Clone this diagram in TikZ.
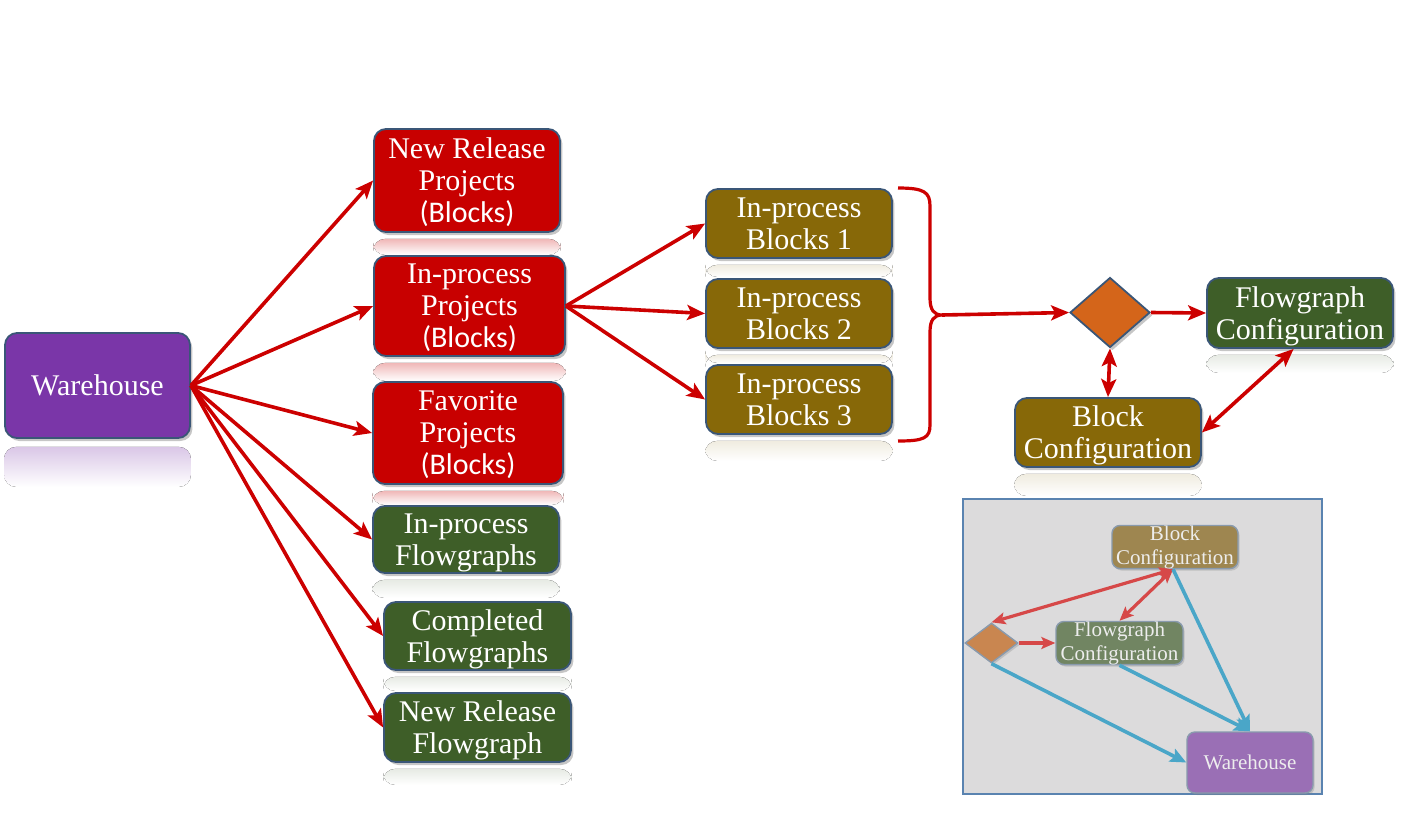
\documentclass[tikz,border=0pt]{standalone}
\usepackage{fontspec}
\setmainfont{Liberation Serif}
\newfontfamily\calfont{Carlito}
\usetikzlibrary{shapes.geometric,arrows.meta,shadows,calc}
\definecolor{purp}{HTML}{7A36A8}
\definecolor{redb}{HTML}{C80000}
\definecolor{grn}{HTML}{3E5E28}
\definecolor{olv}{HTML}{876808}
\definecolor{orng}{HTML}{D4651A}
\definecolor{bordc}{HTML}{3A5677}
\definecolor{arrc}{HTML}{CC0000}
\definecolor{insbg}{HTML}{DCDBDC}
\definecolor{insbd}{HTML}{5A83B0}
\definecolor{iolv}{HTML}{9E8650}
\definecolor{igrn}{HTML}{718562}
\definecolor{ipurp}{HTML}{9A6FB5}
\definecolor{iorng}{HTML}{C98650}
\definecolor{ired}{HTML}{D64848}
\definecolor{iblue}{HTML}{4AA6C8}
\colorlet{grnl}{grn!45!white}
\colorlet{olvl}{olv!45!white}
\begin{document}
\begin{tikzpicture}[x=0.5pt,y=-0.5pt,
  box/.style={rounded corners=6pt, draw=bordc, line width=0.9pt, text=white,
    align=center, inner sep=0pt, font=\fontsize{15}{16}\selectfont,
    text depth=0pt,
    drop shadow={shadow xshift=1.2pt, shadow yshift=-1.5pt, opacity=0.45}},
  ibox/.style={rounded corners=4pt, draw=bordc!60, line width=0.7pt, text=white!93!black,
    align=center, inner sep=0pt, font=\fontsize{10.5}{12}\selectfont,
    drop shadow={shadow xshift=0.8pt, shadow yshift=-1pt, opacity=0.3}},
  refl/.style={top color=#1!28!white, bottom color=white, rounded corners=6pt},
  arr/.style={draw=arrc, line width=1.8pt, -{Stealth[length=9pt,width=7.5pt,inset=2pt]}},
  darr/.style={draw=arrc, line width=1.8pt, {Stealth[length=9pt,width=7.5pt,inset=2pt]}-{Stealth[length=9pt,width=7.5pt,inset=2pt]}},
  iarr/.style={draw=ired, line width=1.6pt, -{Stealth[length=7pt,width=6pt,inset=1.5pt]}},
  idarr/.style={draw=ired, line width=1.6pt, {Stealth[length=7pt,width=6pt,inset=1.5pt]}-{Stealth[length=7pt,width=6pt,inset=1.5pt]}},
  barr/.style={draw=iblue, line width=1.8pt, -{Stealth[length=8pt,width=7pt,inset=1.5pt]}}
]
\useasboundingbox (0,0) rectangle (1415,831);

% main nodes
\node[box, fill=purp, minimum width=92.5pt, minimum height=52.5pt] (wh) at (97.5,385.5) {Warehouse};
\node[box, fill=redb, minimum width=93pt, minimum height=51.5pt] (nrp) at (467,180.5) {New Release\\Projects\\{\calfont (Blocks)}};
\node[box, fill=redb, minimum width=95.5pt, minimum height=50pt] (ipp) at (469.5,306) {In-process\\Projects\\{\calfont (Blocks)}};
\node[box, fill=redb, minimum width=95pt, minimum height=51pt] (fav) at (468,433) {Favorite\\Projects\\{\calfont (Blocks)}};
\node[box, fill=grn, minimum width=93pt, minimum height=33.5pt] (ipf) at (466,539.5) {In-process\\Flowgraphs};
\node[box, fill=grn, minimum width=93.5pt, minimum height=34pt] (cf) at (477.5,636) {Completed\\Flowgraphs};
\node[box, fill=grn, minimum width=93.5pt, minimum height=34.5pt] (nrf) at (477.5,727.5) {New Release\\Flowgraph};
\node[box, fill=olv, minimum width=93pt, minimum height=34.5pt] (b1) at (799,223.5) {In-process\\Blocks 1};
\node[box, fill=olv, minimum width=93pt, minimum height=34.5pt] (b2) at (799,313.5) {In-process\\Blocks 2};
\node[box, fill=olv, minimum width=93pt, minimum height=34.5pt] (b3) at (799,399.5) {In-process\\Blocks 3};
\node[diamond, draw=bordc, line width=0.9pt, fill=orng, minimum width=40pt, minimum height=35pt, inner sep=0pt,
  drop shadow={shadow xshift=1.2pt, shadow yshift=-1.5pt, opacity=0.45}] (dia) at (1110,312.5) {};
\node[box, fill=grn, minimum width=93pt, minimum height=35pt] (fc) at (1300,313) {Flowgraph\\Configuration};
\node[box, fill=olv, minimum width=93pt, minimum height=34.5pt] (bc) at (1108,432.5) {Block\\Configuration};

% reflections
\fill[refl=purp] ($(wh.south west)+(0,8)$) rectangle ($(wh.south east)+(0,48)$);
\fill[refl=redb] ($(nrp.south west)+(0,6)$) rectangle ($(nrp.south east)+(0,22)$);
\fill[refl=redb] ($(ipp.south west)+(0,6)$) rectangle ($(ipp.south east)+(0,24)$);
\fill[refl=redb] ($(fav.south west)+(0,6)$) rectangle ($(fav.south east)+(0,20)$);
\fill[refl=grnl] ($(ipf.south west)+(0,6)$) rectangle ($(ipf.south east)+(0,24)$);
\fill[refl=grnl] ($(cf.south west)+(0,6)$) rectangle ($(cf.south east)+(0,20)$);
\fill[refl=grnl] ($(nrf.south west)+(0,6)$) rectangle ($(nrf.south east)+(0,22)$);
\fill[refl=olvl] ($(b1.south west)+(0,6)$) rectangle ($(b1.south east)+(0,18)$);
\fill[refl=olvl] ($(b2.south west)+(0,6)$) rectangle ($(b2.south east)+(0,14)$);
\fill[refl=olvl] ($(b3.south west)+(0,6)$) rectangle ($(b3.south east)+(0,26)$);
\fill[refl=grnl] ($(fc.south west)+(0,6)$) rectangle ($(fc.south east)+(0,24)$);
\fill[refl=olvl] ($(bc.south west)+(0,6)$) rectangle ($(bc.south east)+(0,28)$);

% main connectors
\foreach \t in {nrp,ipp,fav,ipf,cf,nrf}
  \draw[arr] (wh.east) -- (\t.west);
\foreach \t in {b1,b2,b3}
  \draw[arr] (ipp.east) -- (\t.west);

% brace
\coordinate (bt) at (942,315);
\draw[arrc, line width=1.6pt] (898,188) .. controls (924,188) and (930,192) .. (930,206) -- (930,298)
  .. controls (930,310) and (934,315) .. (bt)
  .. controls (934,315) and (930,320) .. (930,332) -- (930,425)
  .. controls (930,438) and (924,441) .. (898,441);
\draw[arr] (bt) -- (dia.west);
\draw[arr] (dia.east) -- (fc.west);
\draw[darr] (dia.south) -- (bc.north);
\draw[darr] (bc.east) -- (fc.-100);

% inset
\draw[insbd, fill=insbg, line width=0.8pt] (963,499) rectangle (1322,794);
\node[ibox, fill=iolv, minimum width=63pt, minimum height=20pt] (ibc) at (1175,547) {Block\\Configuration};
\node[ibox, fill=igrn, minimum width=63.5pt, minimum height=20pt] (ifc) at (1119.5,643) {Flowgraph\\Configuration};
\node[diamond, draw=bordc!60, line width=0.7pt, fill=iorng, minimum width=26.5pt, minimum height=20pt, inner sep=0pt,
  drop shadow={shadow xshift=0.8pt, shadow yshift=-1pt, opacity=0.3}] (idia) at (991.5,643) {};
\node[ibox, fill=ipurp, minimum width=63pt, minimum height=30.5pt] (iwh) at (1250,762.5) {Warehouse};

\draw[iarr] (idia.east) -- (ifc.west);
\draw[idarr] (ibc.-95) -- (idia.north);
\draw[idarr] (ibc.-95) -- (ifc.north);
\draw[barr] (ibc.-95) -- (iwh.north);
\draw[barr] (ifc.south) -- (iwh.north);
\draw[barr] (idia.south) -- (iwh.west);
\end{tikzpicture}
\end{document}
